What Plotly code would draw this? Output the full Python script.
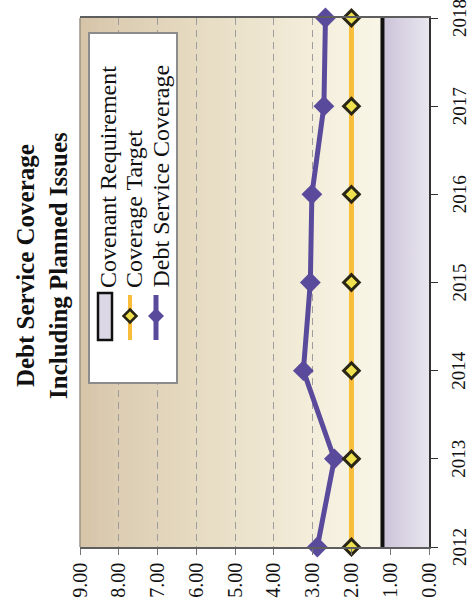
import plotly.graph_objects as go

# ---- data ----
years = [2012, 2013, 2014, 2015, 2016, 2017, 2018]
debt_service_coverage = [2.88, 2.44, 3.24, 3.06, 3.02, 2.71, 2.67]
coverage_target = [2.00, 2.00, 2.00, 2.00, 2.00, 2.00, 2.00]
covenant_requirement = [1.20, 1.20, 1.20, 1.20, 1.20, 1.20, 1.20]
value_ticks = [0, 1, 2, 3, 4, 5, 6, 7, 8, 9]

title_lines = ["Debt Service Coverage", "Including Planned Issues"]
legend_names = ["Covenant Requirement", "Coverage Target", "Debt Service Coverage"]

# ---- styling ----
SERIF = "Liberation Serif, Times New Roman, serif"
PURPLE = "#5a4a9c"
GOLD = "#f8bd3a"
DIAMOND_FILL = "#f0e24e"
DIAMOND_EDGE = "#2a2616"

W_FIG, H_FIG = 474, 614
L, R, T, B = 80, 429, 18, 547          # plot area edges in pixels


def px(x):
    return (x - L) / (R - L)


def py(y):
    return (B - y) / (B - T)


fig = go.Figure()

# Covenant requirement band (filled to zero on the value axis)
fig.add_trace(go.Scatter(
    x=covenant_requirement, y=years, mode="lines", fill="tozerox",
    line=dict(color="#111111", width=4),
    fillgradient=dict(type="horizontal", start=0, stop=1.2,
                      colorscale=[[0, "#e9e6ee"], [1, "#cbc3d9"]]),
    name=legend_names[0], showlegend=False, cliponaxis=False,
))

# Debt service coverage
fig.add_trace(go.Scatter(
    x=debt_service_coverage, y=years, mode="lines+markers",
    line=dict(color=PURPLE, width=5),
    marker=dict(symbol="diamond", size=16, color=PURPLE,
                line=dict(color=PURPLE, width=0)),
    name=legend_names[2], showlegend=False, cliponaxis=False,
))

# Coverage target
fig.add_trace(go.Scatter(
    x=coverage_target, y=years, mode="lines+markers",
    line=dict(color=GOLD, width=5),
    marker=dict(symbol="diamond", size=12, color=DIAMOND_FILL,
                line=dict(color=DIAMOND_EDGE, width=3)),
    name=legend_names[1], showlegend=False, cliponaxis=False,
))

shapes = []

# Warm background gradient across the value axis (strips below the grid)
stops = [(0, (250, 247, 236)), (2, (247, 243, 227)), (4, (239, 231, 210)),
         (6, (230, 219, 194)), (8, (220, 205, 179)), (9, (214, 196, 167))]


def bg_color(v):
    for (a, ca), (b, cb) in zip(stops[:-1], stops[1:]):
        if a <= v <= b:
            t = (v - a) / (b - a)
            c = [round(ca[i] + (cb[i] - ca[i]) * t) for i in range(3)]
            return "rgb(%d,%d,%d)" % tuple(c)
    return "rgb(%d,%d,%d)" % stops[-1][1]


n_strips = 60
for i in range(n_strips):
    v0 = 9 * i / n_strips
    v1 = 9 * (i + 1) / n_strips
    shapes.append(dict(type="rect", xref="x", yref="paper",
                       x0=v0, x1=v1 + 0.02, y0=0, y1=1,
                       fillcolor=bg_color((v0 + v1) / 2),
                       line=dict(width=0), layer="below"))

# Left edge of the plot frame
shapes.append(dict(type="line", xref="paper", yref="paper",
                   x0=0, x1=0, y0=0, y1=1,
                   line=dict(color="#9a9284", width=1.5)))

# Legend box
shapes.append(dict(type="rect", xref="paper", yref="paper",
                   x0=px(89), x1=px(177), y0=py(383), y1=py(33),
                   fillcolor="white", line=dict(color="#8c8c8c", width=2),
                   layer="above"))

# Legend glyphs
shapes.append(dict(type="rect", xref="paper", yref="paper",
                   x0=px(98), x1=px(112), y0=py(340), y1=py(293),
                   fillcolor="#dcd7e4", line=dict(color="#111111", width=2.5),
                   layer="above"))


def diamond_path(cx, cy, r):
    return "M %f,%f L %f,%f L %f,%f L %f,%f Z" % (
        px(cx), py(cy - r), px(cx + r), py(cy),
        px(cx), py(cy + r), px(cx - r), py(cy))


shapes.append(dict(type="line", xref="paper", yref="paper",
                   x0=px(130), x1=px(130), y0=py(340), y1=py(295),
                   line=dict(color=GOLD, width=4), layer="above"))
shapes.append(dict(type="path", xref="paper", yref="paper",
                   path=diamond_path(130, 316, 6.5),
                   fillcolor=DIAMOND_FILL,
                   line=dict(color=DIAMOND_EDGE, width=2.5), layer="above"))
shapes.append(dict(type="line", xref="paper", yref="paper",
                   x0=px(156), x1=px(156), y0=py(340), y1=py(295),
                   line=dict(color=PURPLE, width=5), layer="above"))
shapes.append(dict(type="path", xref="paper", yref="paper",
                   path=diamond_path(156, 316, 8),
                   fillcolor=PURPLE, line=dict(color=PURPLE, width=0),
                   layer="above"))

annotations = [
    dict(text="<b>" + "<br>".join(title_lines) + "</b>",
         xref="paper", yref="paper", x=px(42), y=py(266),
         xanchor="center", yanchor="middle", textangle=-90,
         showarrow=False, align="center",
         font=dict(family=SERIF, size=25, color="#111111")),
]
for name, cx in zip(legend_names, [108, 134, 160]):
    annotations.append(dict(
        text=name, xref="paper", yref="paper", x=px(cx), y=py(290),
        xanchor="center", yanchor="bottom", textangle=-90,
        showarrow=False, font=dict(family=SERIF, size=24, color="#111111")))

# Year labels beside the right-hand axis, placed on the year scale
for yr in years:
    annotations.append(dict(
        text=str(yr), xref="paper", yref="y", x=px(459), y=yr,
        xanchor="center", yanchor="middle", textangle=-90,
        showarrow=False, font=dict(family=SERIF, size=19, color="#111111")))

fig.update_layout(
    width=W_FIG, height=H_FIG,
    margin=dict(l=L, r=W_FIG - R, t=T, b=H_FIG - B, pad=0),
    paper_bgcolor="white", plot_bgcolor="rgba(0,0,0,0)",
    showlegend=False,
    shapes=shapes, annotations=annotations,
    xaxis=dict(
        range=[9, 0], tickvals=value_ticks, tickformat=".2f",
        tickangle=-90, ticks="outside", ticklen=6, tickcolor="#777777",
        showline=True, linecolor="#5e5e5e", linewidth=1.5, mirror=True,
        showgrid=True, gridcolor="#9d9d9d", gridwidth=1, griddash="7px,5px",
        zeroline=False,
        tickfont=dict(family=SERIF, size=20, color="#111111"),
    ),
    yaxis=dict(
        range=[2012, 2018], tickvals=years, side="right",
        ticks="outside", ticklen=7, tickcolor="#333333",
        showticklabels=False,
        showline=True, linecolor="#333333", linewidth=1.5,
        showgrid=False, zeroline=False,
    ),
)

fig.write_html("out.html")
